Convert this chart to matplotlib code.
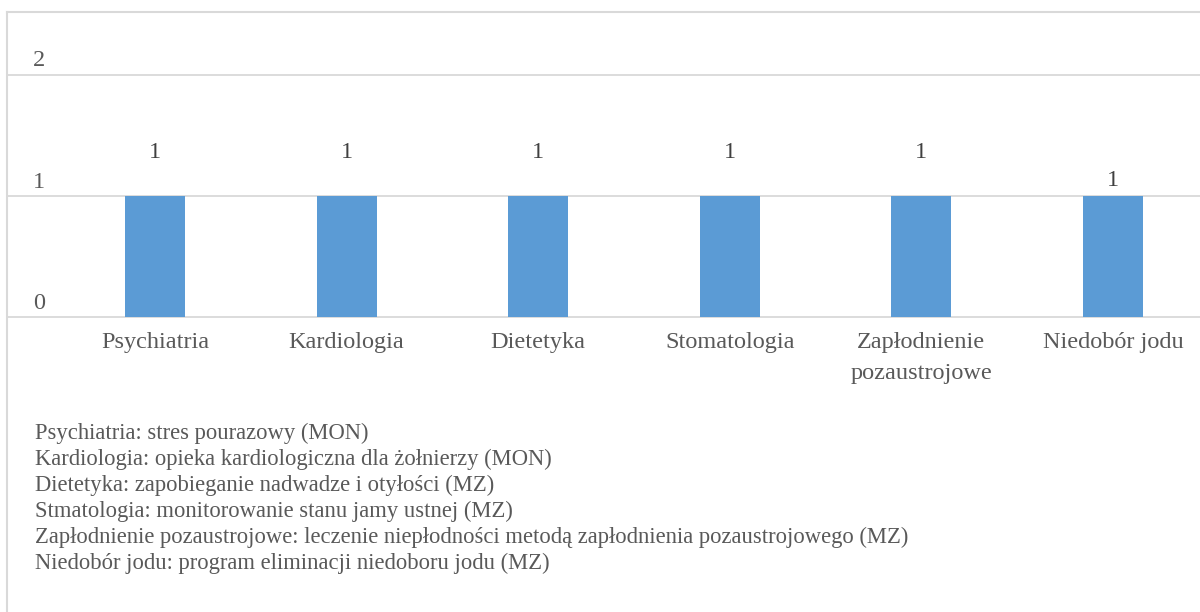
import matplotlib
matplotlib.use("Agg")
import matplotlib.pyplot as plt
from matplotlib.lines import Line2D
import matplotlib.transforms as mtransforms

categories = ["Psychiatria", "Kardiologia", "Dietetyka", "Stomatologia",
              "Zapłodnienie\npozaustrojowe", "Niedobór jodu"]
values = [1, 1, 1, 1, 1, 1]
y_ticks = [0, 1, 2]
notes = [
    "Psychiatria: stres pourazowy (MON)",
    "Kardiologia: opieka kardiologiczna dla żołnierzy (MON)",
    "Dietetyka: zapobieganie nadwadze i otyłości (MZ)",
    "Stmatologia: monitorowanie stanu jamy ustnej (MZ)",
    "Zapłodnienie pozaustrojowe: leczenie niepłodności metodą zapłodnienia pozaustrojowego (MZ)",
    "Niedobór jodu: program eliminacji niedoboru jodu (MZ)",
]

W, H = 1200, 612
TXT = "#595959"
GRID = "#D9D9D9"
BAR = "#5B9BD5"
FS = 17.5
plt.rcParams["font.family"] = ["Liberation Serif", "DejaVu Serif"]

fig = plt.figure(figsize=(W / 100, H / 100), dpi=100)
# plot area in pixels: left 7, right 1200, top 12, baseline 317
ax = fig.add_axes([7 / W, 1 - 317 / H, (W - 7) / W, (317 - 12) / H])
step = 191.6
x0 = 155
ax.set_xlim(-(x0 - 7) / step, (W - x0) / step)
ax.set_ylim(0, (317 - 12) / 121)

x = list(range(len(categories)))
ax.bar(x, values, width=60 / step, color=BAR, zorder=3)

for t in y_ticks:
    ax.axhline(t, color=GRID, lw=1.3, zorder=1, clip_on=False)
for s in ax.spines.values():
    s.set_visible(False)
ax.set_xticks([])
ax.set_yticks([])

# y tick labels sit above their gridlines
ytrans = mtransforms.blended_transform_factory(fig.transFigure, ax.transData)
off = mtransforms.offset_copy(ytrans, fig=fig, x=0, y=14, units="dots")
for t in y_ticks:
    ax.text(33 / W, t, str(t), transform=off, ha="left", va="center",
            fontsize=FS, color=TXT)

# value labels
lab_off = [44, 44, 44, 44, 44, 15]
for xi, v, o in zip(x, values, lab_off):
    tr = mtransforms.offset_copy(ax.transData, fig=fig, x=0, y=o, units="dots")
    ax.text(xi, v, str(v), transform=tr, ha="center", va="center",
            fontsize=FS, color="#404040")

# category labels
ctr = mtransforms.offset_copy(ax.transData, fig=fig, x=0, y=-15, units="dots")
for xi, c in zip(x, categories):
    ax.text(xi, 0, c, transform=ctr, ha="center", va="top", fontsize=FS,
            color=TXT, linespacing=1.6)

# footnotes
for i, n in enumerate(notes):
    fig.text(35 / W, 1 - (433 + 26 * i) / H, n, ha="left", va="center",
             fontsize=16.3, color=TXT)

# outer chart border
fig.add_artist(Line2D([7 / W, 7 / W], [0, 1 - 12 / H], color=GRID, lw=1.5,
                      transform=fig.transFigure))
fig.add_artist(Line2D([7 / W, 1], [1 - 12 / H, 1 - 12 / H], color=GRID, lw=1.5,
                      transform=fig.transFigure))

fig.savefig("out.png", dpi=100)
